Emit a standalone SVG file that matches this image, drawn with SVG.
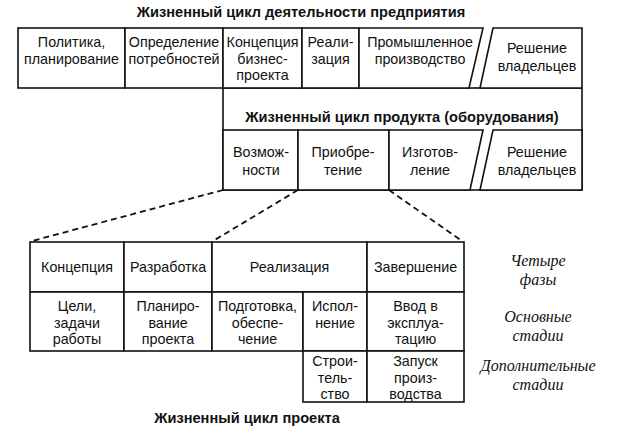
<svg xmlns="http://www.w3.org/2000/svg" width="630" height="430" viewBox="0 0 630 430">
<style>
.b{fill:#fff;stroke:#111;stroke-width:1.6}
.d{stroke:#111;stroke-width:1.8;fill:none;stroke-dasharray:6 4}
text{font-family:"Liberation Sans",Arial,sans-serif;font-size:14.3px;fill:#111;text-anchor:middle}
.t{font-weight:bold;font-size:14.6px}
.i{font-family:"Liberation Serif","Times New Roman",serif;font-style:italic;font-size:16px}
</style>
<rect width="630" height="430" fill="#fff"/>
<text class="t" x="301" y="17">Жизненный цикл деятельности предприятия</text>

<g id="product-box">
<rect class="b" x="223" y="88" width="359" height="102"/>
<text class="t" x="402" y="122">Жизненный цикл продукта (оборудования)</text>
</g>

<g id="politika"><rect class="b" x="18" y="28" width="107" height="60"/>
<text x="71.5" y="47">Политика,</text><text x="71.5" y="63.5">планирование</text></g>
<g id="opredelenie"><rect class="b" x="125" y="28" width="98" height="60"/>
<text x="174" y="47">Определение</text><text x="174" y="63.5">потребностей</text></g>
<g id="koncepcia-biznes"><rect class="b" x="223" y="28" width="79" height="60"/>
<text x="262.5" y="47">Концепция</text><text x="262.5" y="63.5">бизнес-</text><text x="262.5" y="80">проекта</text></g>
<g id="realizacia-top"><rect class="b" x="302" y="28" width="57" height="60"/>
<text x="330.5" y="47">Реали-</text><text x="330.5" y="63.5">зация</text></g>
<g id="proizvodstvo"><polygon class="b" points="359,28 483,28 469,88 359,88"/>
<text x="420" y="47">Промышленное</text><text x="420" y="64">производство</text></g>
<g id="reshenie-top"><polygon class="b" points="493,28 582,28 582,88 480,88"/>
<text x="537" y="53">Решение</text><text x="537" y="71">владельцев</text></g>

<g id="vozmozhnosti"><rect class="b" x="223" y="130" width="75" height="60"/>
<text x="261" y="157">Возмож-</text><text x="261" y="175">ности</text></g>
<g id="priobretenie"><rect class="b" x="298" y="130" width="91" height="60"/>
<text x="343" y="157">Приобре-</text><text x="343" y="175">тение</text></g>
<g id="izgotovlenie"><polygon class="b" points="389,130 483,130 470,190 389,190"/>
<text x="430" y="157">Изготов-</text><text x="430" y="175">ление</text></g>
<g id="reshenie-prod"><polygon class="b" points="493,130 582,130 582,190 480,190"/>
<text x="537" y="157">Решение</text><text x="537" y="175">владельцев</text></g>

<g id="connectors">
<line class="d" x1="223" y1="190" x2="32" y2="241"/>
<line class="d" x1="298" y1="190" x2="213" y2="241"/>
<line class="d" x1="389" y1="190" x2="462" y2="241"/>
</g>

<g id="koncepcia"><rect class="b" x="30" y="242" width="94" height="50"/><text x="77" y="272">Концепция</text></g>
<g id="razrabotka"><rect class="b" x="124" y="242" width="88" height="50"/><text x="168" y="272">Разработка</text></g>
<g id="realizacia"><rect class="b" x="212" y="242" width="155" height="50"/><text x="289.5" y="272">Реализация</text></g>
<g id="zavershenie"><rect class="b" x="367" y="242" width="97" height="50"/><text x="415.5" y="272">Завершение</text></g>

<g id="celi"><rect class="b" x="30" y="292" width="94" height="59"/>
<text x="77" y="311">Цели,</text><text x="77" y="327.5">задачи</text><text x="77" y="344">работы</text></g>
<g id="planirovanie"><rect class="b" x="124" y="292" width="88" height="59"/>
<text x="168" y="311">Планиро-</text><text x="168" y="327.5">вание</text><text x="168" y="344">проекта</text></g>
<g id="podgotovka"><rect class="b" x="212" y="292" width="91" height="59"/>
<text x="257.5" y="311">Подготовка,</text><text x="257.5" y="327.5">обеспе-</text><text x="257.5" y="344">чение</text></g>
<g id="ispolnenie"><rect class="b" x="303" y="292" width="64" height="59"/>
<text x="335" y="311">Испол-</text><text x="335" y="327.5">нение</text></g>
<g id="vvod"><rect class="b" x="367" y="292" width="97" height="59"/>
<text x="415.5" y="311">Ввод в</text><text x="415.5" y="327.5">эксплуа-</text><text x="415.5" y="344">тацию</text></g>

<g id="stroitelstvo"><rect class="b" x="303" y="351" width="64" height="51"/>
<text x="335" y="366">Строи-</text><text x="335" y="382.5">тель-</text><text x="335" y="399">ство</text></g>
<g id="zapusk"><rect class="b" x="367" y="351" width="97" height="51"/>
<text x="415.5" y="366">Запуск</text><text x="415.5" y="382.5">произ-</text><text x="415.5" y="399">водства</text></g>

<g id="labels">
<text class="i" x="538" y="266">Четыре</text><text class="i" x="538" y="285">фазы</text>
<text class="i" x="538" y="322">Основные</text><text class="i" x="538" y="341">стадии</text>
<text class="i" x="538" y="371">Дополнительные</text><text class="i" x="538" y="390">стадии</text>
</g>
<text class="t" x="247" y="423">Жизненный цикл проекта</text>
</svg>
